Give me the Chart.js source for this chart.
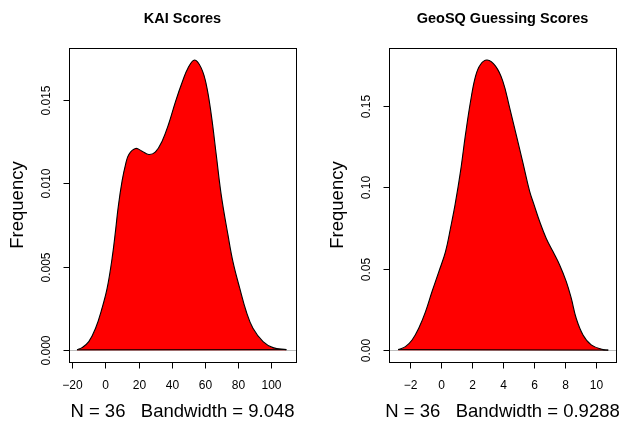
<!DOCTYPE html>
<html>
<head>
<meta charset="utf-8">
<script src="https://cdn.jsdelivr.net/npm/chart.js"></script>
<style>
  html, body { margin: 0; padding: 0; background: #fff; }
  #wrap { position: relative; width: 621px; height: 424px; }
  canvas { position: absolute; top: 0; }
</style>
</head>
<body>
<div id="wrap">
  <canvas id="kai" width="310" height="424" style="left:0"></canvas>
  <canvas id="geosq" width="311" height="424" style="left:310px"></canvas>
</div>
<script>
// KAI density curve
const kaiX = [-17.2, -14.2, -10.1, -6.0, -2.1, 1.0, 4.0, 6.0, 7.7, 10.0, 12.1, 14.1, 18.2, 22.1, 26.2,
  30.2, 34.2, 38.3, 42.3, 46.6, 49.8, 53.8, 57.8, 60.9, 63.9, 66.9, 69.9, 74.0, 77.0, 81.1, 85.1,
  89.1, 95.2, 101.2, 109.3];
const kaiY = [0.00003, 0.00016, 0.00052, 0.00132, 0.00252, 0.00372, 0.00552, 0.00711, 0.00860, 0.01013,
  0.01113, 0.01173, 0.01209, 0.01193, 0.01173, 0.01189, 0.01253, 0.01360, 0.01490, 0.01613, 0.01690,
  0.01739, 0.01692, 0.01592, 0.01412, 0.01173, 0.00933, 0.00691, 0.00531, 0.00372, 0.00231, 0.00132,
  0.00052, 0.00016, 0.00004];
const kaiXTicks = [-20, 0, 20, 40, 60, 80, 100];
const kaiXLabels = ['\u221220', '0', '20', '40', '60', '80', '100'];
const kaiYTicks = [0, 0.005, 0.010, 0.015];
const kaiYLabels = ['0.000', '0.005', '0.010', '0.015'];

// GeoSQ guessing density curve
const geoX = [-2.75, -2.28, -1.85, -1.42, -0.98, -0.56, -0.12, 0.31, 0.63, 0.93, 1.28, 1.60, 1.93, 2.25,
  2.57, 3.0, 3.54, 4.01, 4.45, 4.87, 5.31, 5.74, 6.02, 6.39, 6.81, 7.25, 7.68, 8.11, 8.43, 8.75, 9.19,
  9.72, 10.48, 10.82];
const geoY = [0.0004, 0.0022, 0.0063, 0.0135, 0.0237, 0.0360, 0.0482, 0.0605, 0.0748, 0.0894, 0.1098,
  0.1323, 0.1528, 0.1681, 0.1752, 0.1779, 0.1742, 0.1650, 0.1487, 0.1323, 0.1149, 0.0975, 0.0894,
  0.0789, 0.0687, 0.0605, 0.0523, 0.0421, 0.0319, 0.0196, 0.0094, 0.0033, 0.0004, 0.0001];
const geoXTicks = [-2, 0, 2, 4, 6, 8, 10];
const geoXLabels = ['\u22122', '0', '2', '4', '6', '8', '10'];
const geoYTicks = [0, 0.05, 0.10, 0.15];
const geoYLabels = ['0.00', '0.05', '0.10', '0.15'];

const FONT = '"Liberation Sans", Arial, Helvetica, sans-serif';

// base-graphics look: box, outward ticks, rotated y labels, grey zero line
function rAxes(cfg) {
  return {
    id: 'rAxes',
    beforeDatasetsDraw(chart) {
      const { ctx, chartArea: a, scales: { y } } = chart;
      const y0 = Math.round(y.getPixelForValue(0)) + 0.5;
      ctx.save();
      ctx.strokeStyle = '#bebebe';
      ctx.lineWidth = 1;
      ctx.beginPath();
      ctx.moveTo(a.left, y0);
      ctx.lineTo(a.right, y0);
      ctx.stroke();
      ctx.restore();
    },
    afterDraw(chart) {
      const { ctx, chartArea: a, scales: { x, y } } = chart;
      const L = Math.round(a.left) + 0.5, R = Math.round(a.right) + 0.5;
      const T = Math.round(a.top) + 0.5, B = Math.round(a.bottom) + 0.5;
      ctx.save();
      ctx.strokeStyle = '#000';
      ctx.lineWidth = 1;
      ctx.strokeRect(L, T, R - L, B - T);

      const xp = cfg.xTicks.map(v => Math.round(x.getPixelForValue(v)) + 0.5);
      const yp = cfg.yTicks.map(v => Math.round(y.getPixelForValue(v)) + 0.5);
      ctx.beginPath();
      ctx.moveTo(xp[0], B);
      ctx.lineTo(xp[xp.length - 1], B);
      xp.forEach(p => { ctx.moveTo(p, B); ctx.lineTo(p, B + 6); });
      ctx.moveTo(L, yp[0]);
      ctx.lineTo(L, yp[yp.length - 1]);
      yp.forEach(p => { ctx.moveTo(L, p); ctx.lineTo(L - 6, p); });
      ctx.stroke();

      ctx.fillStyle = '#000';
      ctx.textAlign = 'center';
      ctx.textBaseline = 'middle';
      ctx.font = '12px ' + FONT;
      xp.forEach((p, i) => ctx.fillText(cfg.xLabels[i], p, B + 23));
      yp.forEach((p, i) => {
        ctx.save();
        ctx.translate(L - 22.6, p);
        ctx.rotate(-Math.PI / 2);
        ctx.fillText(cfg.yLabels[i], 0, 0);
        ctx.restore();
      });

      const cx = (a.left + a.right) / 2;
      ctx.font = 'bold 14.5px ' + FONT;
      ctx.fillText(cfg.title, cx, 18.5);
      ctx.font = '18.5px ' + FONT;
      ctx.fillText(cfg.xTitle, cx, 412);
      ctx.save();
      ctx.translate(a.left - 51, (a.top + a.bottom) / 2);
      ctx.rotate(-Math.PI / 2);
      ctx.fillText('Frequency', 0, 0);
      ctx.restore();
      ctx.restore();
    }
  };
}

function densityChart(id, xs, ys, cfg) {
  const pts = xs.map((v, i) => ({ x: v, y: ys[i] }));
  const last = pts.length - 1;
  return new Chart(document.getElementById(id), {
    type: 'line',
    data: {
      datasets: [
        {
          // closing edge of the polygon
          data: [pts[last], pts[0]],
          borderColor: '#000',
          borderWidth: 1,
          pointRadius: 0,
          fill: false,
          order: 0
        },
        {
          data: pts,
          borderColor: '#000',
          borderWidth: 1.1,
          backgroundColor: '#ff0000',
          fill: 'origin',
          pointRadius: 0,
          tension: 0.4,
          order: 1
        }
      ]
    },
    options: {
      responsive: false,
      animation: false,
      devicePixelRatio: 1,
      layout: { padding: cfg.padding },
      plugins: { legend: { display: false }, tooltip: { enabled: false } },
      scales: {
        x: { type: 'linear', min: cfg.xMin, max: cfg.xMax, display: false },
        y: { type: 'linear', min: cfg.yMin, max: cfg.yMax, display: false }
      }
    },
    plugins: [rAxes(cfg)]
  });
}

densityChart('kai', kaiX, kaiY, {
  title: 'KAI Scores',
  xTitle: 'N = 36   Bandwidth = 9.048',
  xTicks: kaiXTicks, xLabels: kaiXLabels,
  yTicks: kaiYTicks, yLabels: kaiYLabels,
  xMin: -22.05, xMax: 115.1, yMin: -0.0007, yMax: 0.01811,
  padding: { left: 69, right: 14, top: 48, bottom: 62 }
});

densityChart('geosq', geoX, geoY, {
  title: 'GeoSQ Guessing Scores',
  xTitle: 'N = 36   Bandwidth = 0.9288',
  xTicks: geoXTicks, xLabels: geoXLabels,
  yTicks: geoYTicks, yLabels: geoYLabels,
  xMin: -3.34, xMax: 11.32, yMin: -0.0072, yMax: 0.1853,
  padding: { left: 79, right: 5, top: 48, bottom: 62 }
});
</script>
</body>
</html>
